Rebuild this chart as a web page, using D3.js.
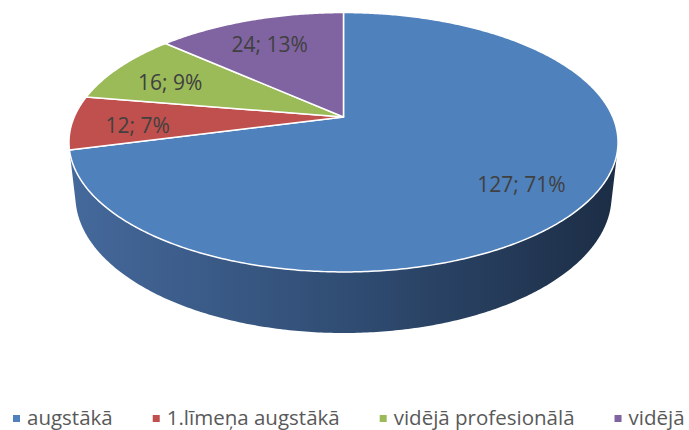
<!DOCTYPE html>
<html>
<head>
<meta charset="utf-8">
<script src="https://cdn.jsdelivr.net/npm/d3@7"></script>
<style>
  html, body { margin: 0; padding: 0; background: #fff; }
  svg { display: block; font-family: "Open Sans", sans-serif; }
</style>
</head>
<body>
<div id="chart"></div>
<script>
// data
const categories = ["augstākā", "1.līmeņa augstākā", "vidējā profesionālā", "vidējā"];
const values = [127, 12, 16, 24];
const colors = ["#4f81bd", "#c0504d", "#9bbb59", "#8064a2"];
const sideColors = [["#45699c", "#2e4a6f", "#1c2d45"], ["#9a3f3d", "#7a302e", "#5c2422"],
  ["#7c9647", "#627636", "#4a5a28"], ["#665082", "#503f66", "#3c2f4d"]];

const width = 689, height = 430;

// 3d view of the disc (radius 1), perspective camera
const cx = 343.5, cy = 117;
const focal = 1226, dist = 4.553;
const tilt = Math.asin(0.4634);
const depth = 0.227;

function project(theta, r, h) {
  const u = r * Math.sin(theta), v = r * Math.cos(theta);
  const yc = v * Math.sin(tilt) + h * Math.cos(tilt);
  const zc = dist + v * Math.cos(tilt) - h * Math.sin(tilt);
  return [cx + focal * u / zc, cy - focal * yc / zc];
}

function arcPoints(a0, a1, h) {
  const n = Math.max(2, Math.ceil(Math.abs(a1 - a0) / 0.01));
  return d3.range(n + 1).map(i => project(a0 + (a1 - a0) * i / n, 1, h));
}

const total = d3.sum(values);
const pie = d3.pie().sort(null).value(d => d.value);
const slices = pie(values.map((v, i) => ({ value: v, name: categories[i], i: i })));

const svg = d3.select('#chart').append('svg')
  .attr('width', width)
  .attr('height', height);

const defs = svg.append('defs');
sideColors.forEach((c, i) => {
  const g = defs.append('linearGradient')
    .attr('id', 'side' + i)
    .attr('gradientUnits', 'userSpaceOnUse')
    .attr('x1', cx - 275).attr('x2', cx + 275)
    .attr('y1', 0).attr('y2', 0);
  g.append('stop').attr('offset', '0%').attr('stop-color', c[0]);
  g.append('stop').attr('offset', '55%').attr('stop-color', c[1]);
  g.append('stop').attr('offset', '100%').attr('stop-color', c[2]);
});

const line = d3.line().curve(d3.curveLinearClosed);

// visible part of the rim faces the camera
const limit = Math.acos(-1 / (dist * Math.cos(tilt)));
const vis0 = limit, vis1 = 2 * Math.PI - limit;

svg.append('g').selectAll('path')
  .data(slices.filter(d => d.endAngle > vis0 && d.startAngle < vis1))
  .enter().append('path')
    .attr('d', d => {
      const t0 = Math.max(d.startAngle, vis0), t1 = Math.min(d.endAngle, vis1);
      const top = arcPoints(t0, t1, 0);
      const bottom = arcPoints(t1, t0, -depth);
      return line(top.concat(bottom));
    })
    .attr('fill', d => `url(#side${d.data.i})`);

svg.append('g').selectAll('path')
  .data(slices)
  .enter().append('path')
    .attr('d', d => line([project(0, 0, 0)].concat(arcPoints(d.startAngle, d.endAngle, 0))))
    .attr('fill', d => colors[d.data.i])
    .attr('stroke', '#fff')
    .attr('stroke-width', 1.5)
    .attr('stroke-linejoin', 'round');

// labels
function labelPos(d) {
  const p = project((d.startAngle + d.endAngle) / 2, 0.76, 0);
  return [p[0], p[1] + 4];
}

svg.append('g').selectAll('text')
  .data(slices)
  .enter().append('text')
    .attr('x', d => labelPos(d)[0])
    .attr('y', d => labelPos(d)[1])
    .attr('dy', '0.35em')
    .attr('text-anchor', 'middle')
    .attr('font-size', 21)
    .attr('fill', '#404040')
    .text(d => `${d.value}; ${Math.round(d.value / total * 100)}%`);

// legend
const legend = svg.append('g');
let lx = 13;
categories.forEach((name, i) => {
  legend.append('rect')
    .attr('x', lx).attr('y', 415)
    .attr('width', 7).attr('height', 7)
    .attr('fill', colors[i]);
  const t = legend.append('text')
    .attr('x', lx + 14).attr('y', 425)
    .attr('font-size', 20.5)
    .attr('fill', '#595959')
    .text(name);
  lx += 14 + t.node().getComputedTextLength() + 40;
});
</script>
</body>
</html>
